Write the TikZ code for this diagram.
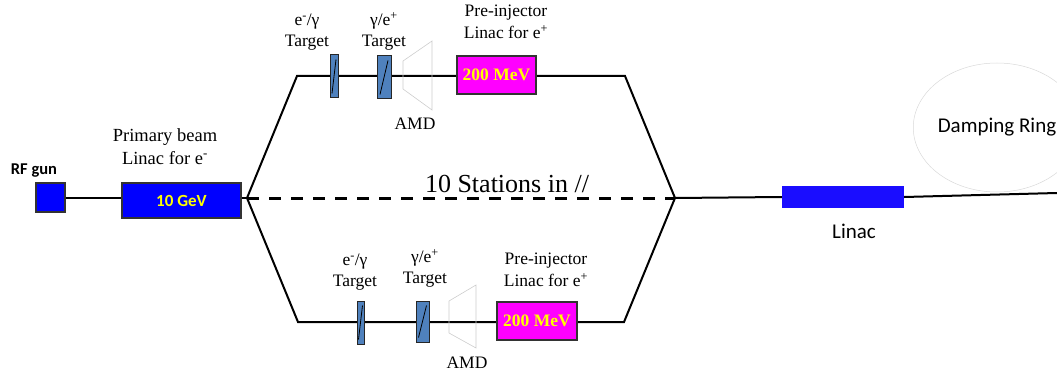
\documentclass[tikz,border=0pt]{standalone}
\usepackage{fontspec}
\setmainfont{Liberation Serif}
\newfontfamily\calibri{Carlito}
\usetikzlibrary{shapes.geometric,calc,backgrounds}
\definecolor{pblue}{RGB}{0,0,255}
\definecolor{lblue}{RGB}{26,13,255}
\definecolor{tgt}{RGB}{79,129,189}
\definecolor{mag}{RGB}{255,0,255}
\definecolor{yel}{RGB}{255,255,0}
\definecolor{amdgray}{RGB}{205,205,205}
\begin{document}
\begin{tikzpicture}[x=1pt,y=-1pt,
  beam/.style={line width=2pt, black},
  dashbeam/.style={line width=3pt, black, dash pattern=on 12pt off 10pt},
  box/.style={draw=black!80, line width=1.2pt, inner sep=0, anchor=center},
  tgtbox/.style={draw=black!85, fill=tgt, line width=1pt, inner sep=0, minimum height=43pt},
  diag/.style={line width=0.8pt, black},
  amd/.style={draw=amdgray, line width=0.6pt},
  lbl/.style={font=\fontsize{17.5}{21}\selectfont, align=center, inner sep=0},
  mev/.style={box, fill=mag, minimum width=79pt, minimum height=38pt, text=yel, font=\bfseries\fontsize{17.5}{20}\selectfont},
  cal/.style={font=\calibri\fontsize{21}{24}\selectfont, inner sep=0}]
\useasboundingbox (0,0) rectangle (1057,377);

% nodes
\node[box, fill=pblue, minimum width=29pt, minimum height=29pt] (rf) at (50.5,197.5) {};
\node[box, fill=pblue, minimum width=119pt, minimum height=35pt, text=yel, font=\calibri\bfseries\fontsize{17}{20}\selectfont] (gev) at (181.5,200.5) {\raisebox{-2pt}{10 GeV}};

\coordinate (split) at (247,198);
\coordinate (ul) at (297,76);
\coordinate (ur) at (625,76);
\coordinate (ll) at (298,322);
\coordinate (lr) at (624,322);
\coordinate (merge) at (675,198);
\coordinate (rend) at (1057,193);

% upper station
\node[tgtbox, minimum width=8pt] (ut1) at (334,76.5) {};
\node[tgtbox, minimum width=14pt] (ut2) at (384,77.5) {};
\node[mev] (umev) at (496.5,75) {200 MeV};
% lower station
\node[tgtbox, minimum width=7pt] (lt1) at (360.5,322.5) {};
\node[tgtbox, minimum width=13pt, minimum height=41pt] (lt2) at (422.5,321.5) {};
\node[mev, minimum width=80pt] (lmev) at (537,321) {200 MeV};

\draw[diag] ($(ut1.center)+(-2,17)$) -- ($(ut1.center)+(2,-17)$);
\draw[diag] ($(ut2.center)+(-4,17)$) -- ($(ut2.center)+(4,-17)$);
\draw[diag] ($(lt1.center)+(-2,17)$) -- ($(lt1.center)+(2,-17)$);
\draw[diag] ($(lt2.center)+(-4,16)$) -- ($(lt2.center)+(4,-16)$);

% AMD horns
\draw[amd] (403,61) -- (432,41) -- (432,110) -- (403,89) -- cycle;
\draw[amd] (449,301) -- (476,285) -- (476,348) -- (449,333) -- cycle;

\node[fill=lblue, minimum width=122pt, minimum height=22pt, inner sep=0] (linac) at (843,197) {};
\node[draw=black!15, line width=0.5pt, ellipse, minimum width=156pt, minimum height=129pt, inner sep=0, cal] (ring) at (997,127.5) {Damping Ring};

% beam lines
\begin{pgfonlayer}{background}
\draw[beam] (rf) -- (gev.west |- rf);
\draw[beam] (gev.east |- split) -- (split);
\draw[beam, line join=miter] (split) -- (ul) -- (ur) -- (merge);
\draw[beam, line join=miter] (split) -- (ll) -- (lr) -- (merge);
\draw[dashbeam] (split) -- (merge);
\draw[beam] (merge) -- (linac.west);
\draw[beam] (linac.east) -- (rend);
\end{pgfonlayer}

% labels
\node[cal, font=\calibri\bfseries\fontsize{16.5}{19}\selectfont, anchor=base] (rfl) at (34,174) {RF gun};
\node[lbl, font=\fontsize{18.5}{23}\selectfont, anchor=north] (pbl) at (165,128) {Primary beam\\Linac for e\textsuperscript{-}};
\node[lbl, font=\fontsize{26}{30}\selectfont, anchor=base] (stl) at (507,192) {10 Stations in //};
\node[cal, anchor=base] (linl) at (854,238) {Linac};

\node[lbl, anchor=north] (ut1l) at (307,14) {e\textsuperscript{-}/γ\\Target};
\node[lbl, anchor=north] (ut2l) at (384,12) {γ/e\textsuperscript{+}\\Target};
\node[lbl, font=\fontsize{17.5}{22}\selectfont, anchor=north] (upl) at (506,5) {Pre-injector\\Linac for e\textsuperscript{+}};
\node[lbl, anchor=base] (uamd) at (415,130) {AMD};

\node[lbl, anchor=north] (lt1l) at (355,254) {e\textsuperscript{-}/γ\\Target};
\node[lbl, anchor=north] (lt2l) at (425,249) {γ/e\textsuperscript{+}\\Target};
\node[lbl, font=\fontsize{17.5}{22}\selectfont, anchor=north] (lpl) at (546,253) {Pre-injector\\Linac for e\textsuperscript{+}};
\node[lbl, anchor=base] (lamd) at (467,368) {AMD};
\end{tikzpicture}
\end{document}
